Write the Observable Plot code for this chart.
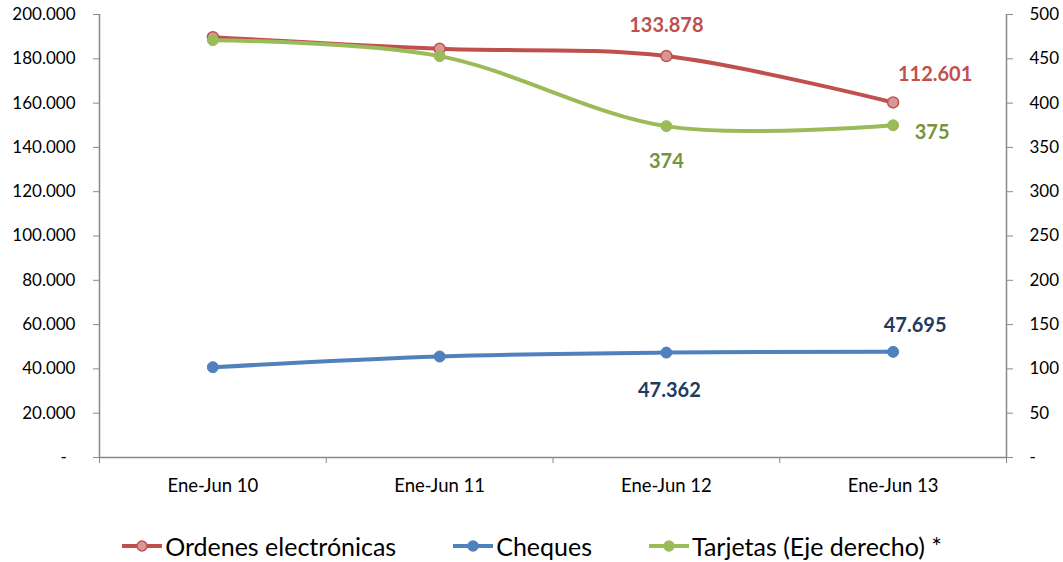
<!DOCTYPE html>
<html>
<head>
<meta charset="utf-8">
<script src="https://cdn.jsdelivr.net/npm/d3@7"></script>
<script src="https://cdn.jsdelivr.net/npm/@observablehq/plot@0.6"></script>
<style>
  html, body { margin: 0; padding: 0; background: #fff; }
  body { width: 1063px; height: 562px; overflow: hidden; font-family: Lato, "Open Sans", sans-serif; }
  #legend { display: flex; justify-content: center; align-items: center; gap: 56px; height: 40px; margin-top: 4px; font-size: 25px; color: #000; }
  #legend .item { display: flex; align-items: center; gap: 2px; }
</style>
</head>
<body>
<div id="chart"></div>
<div id="legend"></div>
<script>
// ---- data ----
const categories = ["Ene-Jun 10", "Ene-Jun 11", "Ene-Jun 12", "Ene-Jun 13"];
const ordenes  = [148980, 138900, 133878, 112601];   // Ordenes electrónicas (stacked on Cheques)
const cheques  = [40770, 45600, 47362, 47695];        // Cheques
const tarjetas = [471, 453, 374, 375];                // Tarjetas (Eje derecho)
const leftTicks  = [0, 20000, 40000, 60000, 80000, 100000, 120000, 140000, 160000, 180000, 200000];
const rightTicks = [0, 50, 100, 150, 200, 250, 300, 350, 400, 450, 500];
const seriesNames = ["Ordenes electrónicas", "Cheques", "Tarjetas (Eje derecho) *"];
const labeledOrdenes = [2, 3];
const labeledCheques = [2, 3];
const labeledTarjetas = [2, 3];

// ---- derived ----
const ratio = d3.max(leftTicks) / d3.max(rightTicks);
const table = categories.map((c, i) => ({
  i, cat: c,
  ordenes: ordenes[i], cheques: cheques[i], total: ordenes[i] + cheques[i],
  tarjetas: tarjetas[i], tarjetasLeft: tarjetas[i] * ratio
}));
const nf = new Intl.NumberFormat("de-DE");
const fmtL = v => v === 0 ? "-\u00a0\u00a0" : nf.format(v);
const fmtR = v => v === 0 ? "-" : nf.format(v);

const RED = "#C0504D", RED_FILL = "#D99694", BLUE = "#4F81BD", GREEN = "#9BBB59";
const RED_TXT = "#C0504D", BLUE_TXT = "#1F3A60", GREEN_TXT = "#77933C";
const GRAY = "#898989";
const xBounds = d3.range(-0.5, categories.length, 1);

const chart = Plot.plot({
  width: 1063, height: 522,
  marginLeft: 99, marginRight: 57, marginTop: 14, marginBottom: 65,
  x: {domain: [-0.5, categories.length - 0.5], label: null},
  y: {domain: [0, d3.max(leftTicks)], label: null},
  style: {fontFamily: "Lato, 'Open Sans', sans-serif", fontSize: "17px", color: "#000", background: "#fff"},
  marks: [
    Plot.axisY(leftTicks, {anchor: "left", label: null, tickSize: 6, tickPadding: 18, tickFormat: fmtL, stroke: GRAY, fill: "#000", fontSize: 17}),
    Plot.axisY(rightTicks.map(v => v * ratio), {anchor: "right", label: null, tickSize: 6, tickPadding: 17, tickFormat: v => fmtR(v / ratio), stroke: GRAY, fill: "#000", fontSize: 17}),
    Plot.axisX(xBounds, {anchor: "bottom", label: null, tickSize: 6, tickFormat: () => "", stroke: GRAY}),
    Plot.axisX(d3.range(categories.length), {anchor: "bottom", label: null, tickSize: 0, tickPadding: 21, tickFormat: i => categories[i], fill: "#000", fontSize: 18.5}),
    Plot.ruleX([-0.5, categories.length - 0.5], {stroke: GRAY, strokeWidth: 1.5}),
    Plot.ruleY([0], {stroke: GRAY, strokeWidth: 1.5}),

    // Ordenes electrónicas (stacked on cheques)
    Plot.line(table, {x: "i", y: "total", curve: "cardinal", stroke: RED, strokeWidth: 4}),
    Plot.dot(table, {x: "i", y: "total", r: 5.5, fill: RED_FILL, stroke: RED, strokeWidth: 1.5}),
    // Cheques
    Plot.line(table, {x: "i", y: "cheques", curve: "cardinal", stroke: BLUE, strokeWidth: 4}),
    Plot.dot(table, {x: "i", y: "cheques", r: 5.5, fill: BLUE, stroke: BLUE, strokeWidth: 1}),
    // Tarjetas (right axis)
    Plot.line(table, {x: "i", y: "tarjetasLeft", curve: "cardinal", stroke: GREEN, strokeWidth: 4}),
    Plot.dot(table, {x: "i", y: "tarjetasLeft", r: 5.5, fill: GREEN, stroke: GREEN, strokeWidth: 1}),

    // data labels
    Plot.text([table[labeledOrdenes[0]]], {x: "i", y: "total", text: d => nf.format(d.ordenes), dy: -30, fill: RED_TXT, fontWeight: "bold", fontSize: 20}),
    Plot.text([table[labeledOrdenes[1]]], {x: "i", y: "total", text: d => nf.format(d.ordenes), dx: 42, dy: -28, fill: RED_TXT, fontWeight: "bold", fontSize: 20}),
    Plot.text([table[labeledCheques[0]]], {x: "i", y: "cheques", text: d => nf.format(d.cheques), dx: 3, dy: 38, fill: BLUE_TXT, fontWeight: "bold", fontSize: 20}),
    Plot.text([table[labeledCheques[1]]], {x: "i", y: "cheques", text: d => nf.format(d.cheques), dx: 22, dy: -26, fill: BLUE_TXT, fontWeight: "bold", fontSize: 20}),
    Plot.text([table[labeledTarjetas[0]]], {x: "i", y: "tarjetasLeft", text: d => nf.format(d.tarjetas), dy: 35, fill: GREEN_TXT, fontWeight: "bold", fontSize: 20}),
    Plot.text([table[labeledTarjetas[1]]], {x: "i", y: "tarjetasLeft", text: d => nf.format(d.tarjetas), dx: 39, dy: 7, fill: GREEN_TXT, fontWeight: "bold", fontSize: 20})
  ]
});
document.getElementById("chart").appendChild(chart);

// legend
const legendItems = [
  {name: seriesNames[0], stroke: RED, fill: RED_FILL},
  {name: seriesNames[1], stroke: BLUE, fill: BLUE},
  {name: seriesNames[2], stroke: GREEN, fill: GREEN}
];
const legend = d3.select("#legend");
for (const it of legendItems) {
  const item = legend.append("div").attr("class", "item");
  const svg = item.append("svg").attr("width", 42).attr("height", 14);
  svg.append("line").attr("x1", 1).attr("x2", 41).attr("y1", 7).attr("y2", 7).attr("stroke", it.stroke).attr("stroke-width", 4);
  svg.append("circle").attr("cx", 21).attr("cy", 7).attr("r", 5).attr("fill", it.fill).attr("stroke", it.stroke).attr("stroke-width", 1.5);
  item.append("span").text(it.name);
}
</script>
</body>
</html>
